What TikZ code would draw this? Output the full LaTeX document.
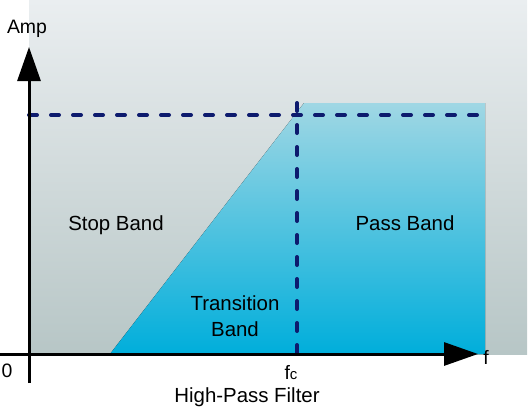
\documentclass[tikz,border=0pt]{standalone}
\usepackage{fontspec}
\setmainfont{Liberation Sans}
\usetikzlibrary{positioning,arrows.meta}
\definecolor{bgtop}{HTML}{EAEEF0}
\definecolor{bgbottom}{HTML}{B7C6C6}
\definecolor{passtop}{HTML}{A0D7E4}
\definecolor{passbottom}{HTML}{00AEDB}
\definecolor{cutnavy}{HTML}{0D1B6E}

\begin{document}
\begin{tikzpicture}[x=1bp,y=-1bp,
		axis/.style={line width=3bp,-{Triangle[length=34bp,width=23bp]}},
		cutoff/.style={cutnavy,line width=4bp,dash pattern=on 8bp off 14bp,line cap=round},
		bandlabel/.style={font=\fontsize{20.5}{26}\selectfont,align=center,inner sep=0pt},
		axlabel/.style={font=\fontsize{19.5}{22}\selectfont,inner sep=0pt}]
		\useasboundingbox (0,0) rectangle (528,408);
		% background and filter response
		\fill[top color=bgtop,bottom color=bgbottom] (29,0) rectangle (527,354);
		\fill[top color=passtop,bottom color=passbottom] (110,354) -- (304,103) -- (485,103) -- (485,354) -- cycle;
		% cut-off lines
		\coordinate (levelstart) at (29,115);
		\coordinate (levelend) at (483,115);
		\coordinate (fctop) at (297,103);
		\coordinate (fcfoot) at (297,354);
		\draw[cutoff] (levelstart) -- (levelend);
		\draw[cutoff] (fctop) -- (fcfoot);
		% axes
		\coordinate (xstart) at (0,354);
		\coordinate (xtip) at (478,354);
		\coordinate (ystart) at (29,383);
		\coordinate (ytip) at (29,47);
		\draw[axis] (xstart) -- (xtip);
		\draw[axis] (ystart) -- (ytip);
		% labels
		\node[axlabel,anchor=base] (amp) at (27,33) {Amp};
		\node[axlabel,anchor=base] (freq) at (486,364) {f};
		\node[axlabel,anchor=base] (zero) at (7,377) {0};
		\node[axlabel,anchor=base] (fc) at (291,379) {f{\fontsize{15}{15}\selectfont c}};
		\node[bandlabel,anchor=base] (stopband) at (116,230) {Stop Band};
		\node[bandlabel,anchor=base] (passband) at (405,230) {Pass Band};
		\node[bandlabel] (transband) at (235,316) {Transition\\Band};
		\node[bandlabel,anchor=base] (caption) at (247,402) {High-Pass Filter};
	\end{tikzpicture}
\end{document}
